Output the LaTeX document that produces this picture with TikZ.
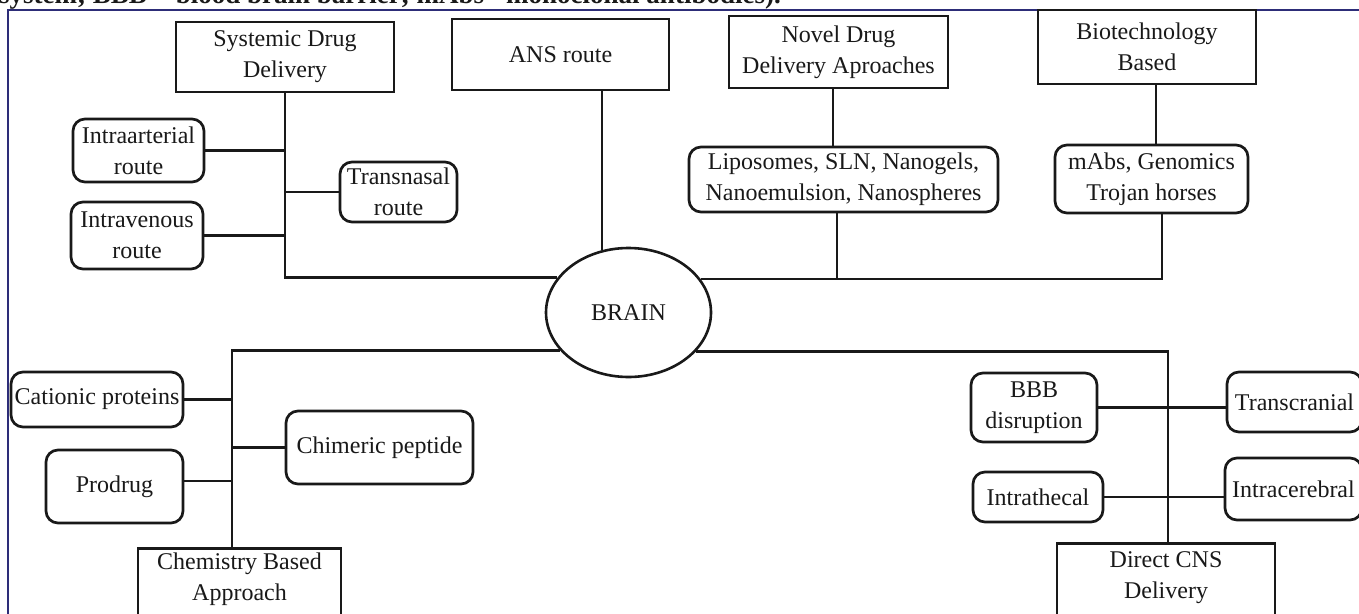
\documentclass[tikz,border=0pt]{standalone}
\usepackage{fontspec}
\setmainfont{Liberation Serif}
\usetikzlibrary{shapes.geometric}
\definecolor{frameblue}{RGB}{45,45,120}
\definecolor{ink}{RGB}{25,25,25}
\begin{document}
\begin{tikzpicture}[x=1pt,y=-1pt,
  every node/.style={font=\fontsize{24}{31}\selectfont, text=ink},
  box/.style={draw=ink, line width=2.7pt, align=center, inner sep=0pt},
  rbox/.style={box, rounded corners=12pt},
  txt/.style={align=center, inner sep=0pt},
  conn/.style={draw=ink, line width=2.6pt}]
\useasboundingbox[fill=white] (0,0) rectangle (1359,613);

% caption (cut off at top, as in the reference)
\node[anchor=base west, inner sep=0pt, font=\bfseries\fontsize{27}{30}\selectfont] (cap) at (-1,4)
  {system; BBB = blood brain barrier; mAbs= monoclonal antibodies).};

% frame
\draw[frameblue, line width=1.6pt] (8,625) -- (8,10) -- (1370,10);

% top boxes
\node[box, minimum width=218, minimum height=70] (sys) at (285,57) {Systemic Drug\\Delivery};
\node[box, minimum width=217, minimum height=71] (ans) at (560.5,54.5) {ANS route};
\node[box, minimum width=219, minimum height=72] (novel) at (838.5,52) {Novel Drug\\Delivery Aproaches};
\node[box, minimum width=218, minimum height=74] (bio) at (1147,47) {Biotechnology\\Based};

% top rounded boxes
\node[rbox, minimum width=131, minimum height=63] (intraa) at (138.5,150.5) {Intraarterial\\route};
\node[rbox, minimum width=132, minimum height=67] (intrav) at (137,235.5) {Intravenous\\route};
\node[rbox, minimum width=117, minimum height=60] (transn) at (398.5,192) {Transnasal\\route};
\node[rbox, minimum width=309, minimum height=65] (lipo) at (843.5,179.5) {Liposomes, SLN, Nanogels,\\Nanoemulsion, Nanospheres};
\node[rbox, minimum width=193, minimum height=68] (mabs) at (1151.5,179) {mAbs, Genomics\\Trojan horses};

% brain
\node[draw=ink, ellipse, line width=2.6pt, minimum width=165, minimum height=129, inner sep=0pt] (brain) at (628.5,312.5) {BRAIN};

% bottom rounded boxes
\node[rbox, minimum width=172, minimum height=55] (cation) at (97,399.5) {Cationic proteins};
\node[rbox, minimum width=137, minimum height=73] (prodrug) at (114.5,486.5) {Prodrug};
\node[rbox, minimum width=187, minimum height=73] (chim) at (379.5,447.5) {Chimeric peptide};
\node[rbox, minimum width=126, minimum height=69] (bbb) at (1034,407.5) {BBB\\disruption};
\node[rbox, minimum width=130, minimum height=50] (intrat) at (1038,497) {Intrathecal};
\node[rbox, minimum width=135, minimum height=60] (transcr) at (1294.5,402) {Transcranial};
\node[rbox, minimum width=137, minimum height=62] (intracer) at (1293.5,489) {Intracerebral};

% bottom boxes (cut at bottom edge)
\node[box, anchor=north, minimum width=203, minimum height=90] (chem) at (239.5,547) {};
\node[txt] (chemtxt) at (239.5,579.5) {Chemistry Based\\Approach};
\node[box, anchor=north, minimum width=218, minimum height=90] (direct) at (1166,542) {};
\node[txt] (directtxt) at (1166,577.5) {Direct CNS\\Delivery};

% connectors, top half
\draw[conn] (sys.south) |- (brain.154.6);
\draw[conn] (intraa.east) -- (intraa.east -| sys.south);
\draw[conn] (intrav.east) -- (intrav.east -| sys.south);
\draw[conn] (transn.west) -- (transn.west -| sys.south);
\draw[conn] (brain.113.4) -- (brain.113.4 |- ans.south);
\coordinate (novS) at ([xshift=-5.5pt]novel.south);
\draw[conn] (novS) -- (novS |- lipo.north);
\coordinate (mabsS) at ([xshift=10.5pt]mabs.south);
\draw[conn] (brain.25.4) -| (mabsS);
\coordinate (lipoS) at ([xshift=-6.5pt]lipo.south);
\draw[conn] (lipoS) -- (lipoS |- brain.25.4);
\coordinate (bioS) at ([xshift=9pt]bio.south);
\draw[conn] (bioS) -- (bioS |- mabs.north);

% connectors, bottom half
\coordinate (chemtop) at ([xshift=-7.5pt]chem.north);
\draw[conn] (brain.209.2) -| (chemtop);
\draw[conn] (cation.east) -- (cation.east -| chemtop);
\coordinate (prodE) at ([yshift=5.5pt]prodrug.east);
\draw[conn] (prodE) -- (prodE -| chemtop);
\draw[conn] (chim.west) -- (chim.west -| chemtop);
\coordinate (dirtop) at ([xshift=2pt]direct.north);
\draw[conn] (brain.330.8) -| (dirtop);
\draw[conn] (bbb.east) -- (bbb.east -| transcr.west);
\draw[conn] (intrat.east) -- (intrat.east -| intracer.west);
\end{tikzpicture}
\end{document}
